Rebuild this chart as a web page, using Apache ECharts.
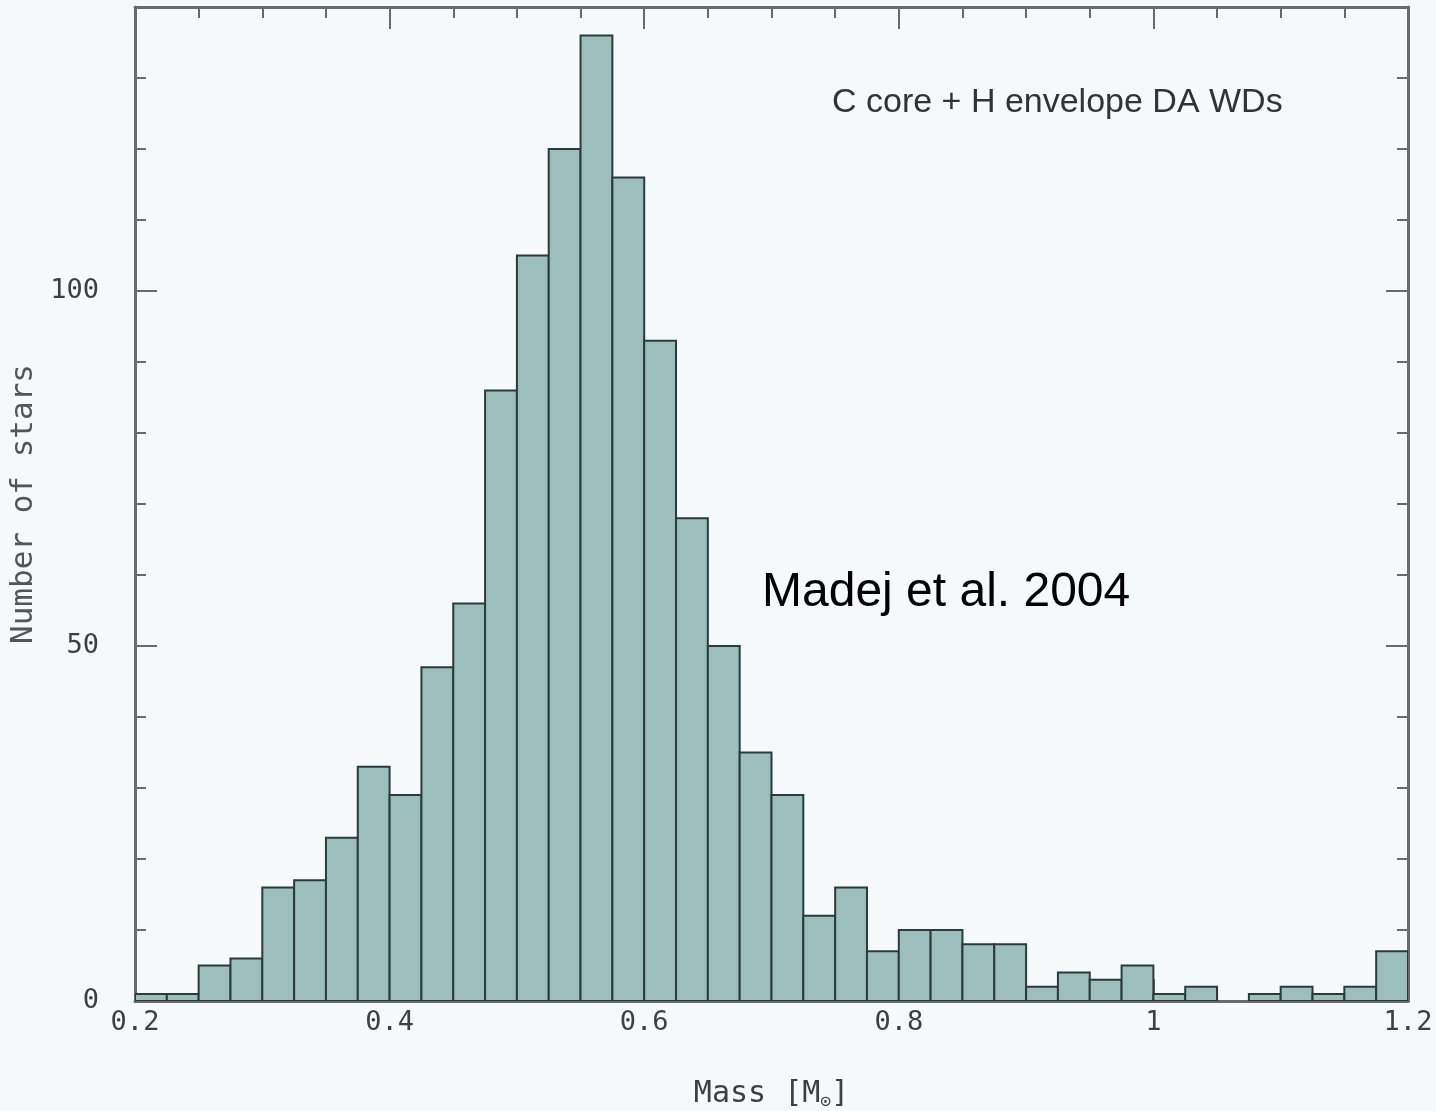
<!DOCTYPE html>
<html>
<head>
<meta charset="utf-8">
<script src="https://cdn.jsdelivr.net/npm/echarts@6/dist/echarts.min.js"></script>
<style>
html,body{margin:0;padding:0;background:#f5f9fa;}
#chart{width:1436px;height:1111px;}
</style>
</head>
<body>
<div id="chart"></div>
<script>
// Bin edges (solar masses)
var binLeft = [0.200,0.225,0.250,0.275,0.300,0.325,0.350,0.375,0.400,0.425,
               0.450,0.475,0.500,0.525,0.550,0.575,0.600,0.625,0.650,0.675,
               0.700,0.725,0.750,0.775,0.800,0.825,0.850,0.875,0.900,0.925,
               0.950,0.975,1.000,1.025,1.050,1.075,1.100,1.125,1.150,1.175];
var binRight = [0.225,0.250,0.275,0.300,0.325,0.350,0.375,0.400,0.425,0.450,
                0.475,0.500,0.525,0.550,0.575,0.600,0.625,0.650,0.675,0.700,
                0.725,0.750,0.775,0.800,0.825,0.850,0.875,0.900,0.925,0.950,
                0.975,1.000,1.025,1.050,1.075,1.100,1.125,1.150,1.175,1.200];
// Number of stars per bin
var counts = [1,1,5,6,16,17,23,33,29,47,
              56,86,105,120,136,116,93,68,50,35,
              29,12,16,7,10,10,8,8,2,4,
              3,5,1,2,0,1,2,1,2,7];

var xLabels = ['0.2','0.4','0.6','0.8','1','1.2'];
var yLabels = ['0','50','100'];
var annotation = 'C core + H envelope DA WDs';
var credit = 'Madej et al. 2004';

var histData = [];
for (var i = 0; i < counts.length; i++) {
  if (counts[i] > 0) histData.push([binLeft[i], binRight[i], counts[i]]);
}

var axisCol = '#6a6a6a';
var textCol = '#3f3f3f';
var mono = '"DejaVu Sans Mono", monospace';

function fmtX(v) {
  var s = (Math.round(v * 10) / 10).toString();
  return xLabels.indexOf(s) >= 0 ? s : '';
}
function fmtY(v) {
  var s = String(Math.round(v));
  return yLabels.indexOf(s) >= 0 ? s : '';
}

var chart = echarts.init(document.getElementById('chart'), null, {renderer: 'canvas'});
var option = {
  backgroundColor: '#f5f9fa',
  animation: false,
  grid: {left: 135, right: 28, top: 7, bottom: 110, show: false, containLabel: false, outerBoundsMode: 'none'},
  xAxis: [
    {
      type: 'value', position: 'bottom', min: 0.2, max: 1.2, interval: 0.2,
      name: 'Mass [M{sub|⊙}]',
      nameLocation: 'middle', nameGap: 76,
      nameTextStyle: {
        fontFamily: mono, fontSize: 30, color: textCol,
        rich: {sub: {fontFamily: mono, fontSize: 18, color: textCol, verticalAlign: 'bottom', padding: [16, 0, 0, 0]}}
      },
      axisLine: {show: true, onZero: false, lineStyle: {color: axisCol, width: 3}},
      axisTick: {show: true, inside: true, length: 22, lineStyle: {color: axisCol, width: 2}},
      minorTick: {show: true, splitNumber: 4, length: 11, lineStyle: {color: axisCol, width: 2}},
      splitLine: {show: false},
      axisLabel: {show: true, margin: 8, fontFamily: mono, fontSize: 27, color: textCol, formatter: fmtX, showMinLabel: true, showMaxLabel: true}
    },
    {
      type: 'value', position: 'top', min: 0.2, max: 1.2, interval: 0.2,
      axisLine: {show: true, onZero: false, lineStyle: {color: axisCol, width: 3}},
      axisTick: {show: true, inside: true, length: 22, lineStyle: {color: axisCol, width: 2}},
      minorTick: {show: true, splitNumber: 4, length: 11, lineStyle: {color: axisCol, width: 2}},
      splitLine: {show: false},
      axisLabel: {show: false}
    }
  ],
  yAxis: [
    {
      type: 'value', position: 'left', min: 0, max: 140, interval: 10,
      name: 'Number of stars',
      nameLocation: 'middle', nameGap: 95, nameRotate: 90,
      nameTextStyle: {fontFamily: mono, fontSize: 31, color: '#555'},
      axisLine: {show: true, onZero: false, lineStyle: {color: axisCol, width: 3}},
      axisTick: {show: true, inside: true, length: 11, lineStyle: {color: axisCol, width: 2}},
      splitLine: {show: false},
      axisLabel: {show: true, margin: 36, fontFamily: mono, fontSize: 27, color: textCol, formatter: fmtY}
    },
    {
      type: 'value', position: 'left', min: 0, max: 140, interval: 50,
      axisLine: {show: false},
      axisTick: {show: true, inside: true, length: 22, lineStyle: {color: axisCol, width: 2}},
      splitLine: {show: false},
      axisLabel: {show: false}
    },
    {
      type: 'value', position: 'right', min: 0, max: 140, interval: 10,
      axisLine: {show: true, onZero: false, lineStyle: {color: axisCol, width: 3}},
      axisTick: {show: true, inside: true, length: 11, lineStyle: {color: axisCol, width: 2}},
      splitLine: {show: false},
      axisLabel: {show: false}
    },
    {
      type: 'value', position: 'right', min: 0, max: 140, interval: 50,
      axisLine: {show: false},
      axisTick: {show: true, inside: true, length: 22, lineStyle: {color: axisCol, width: 2}},
      splitLine: {show: false},
      axisLabel: {show: false}
    }
  ],
  series: [
    {
      type: 'custom',
      xAxisIndex: 0, yAxisIndex: 0,
      clip: true,
      encode: {x: [0, 1], y: 2},
      data: histData,
      z: 5,
      renderItem: function (params, api) {
        var p0 = api.coord([api.value(0), api.value(2)]);
        var p1 = api.coord([api.value(1), 0]);
        return {
          type: 'rect',
          shape: {x: p0[0], y: p0[1], width: p1[0] - p0[0], height: p1[1] - p0[1]},
          style: {fill: '#9cbfbd', stroke: '#2b3b3b', lineWidth: 2}
        };
      }
    }
  ],
  graphic: [
    {
      type: 'text', left: 832, top: 86, z: 10,
      style: {text: annotation, fontFamily: '"Liberation Sans", Arial, sans-serif', fontSize: 34, fill: '#333'}
    },
    {
      type: 'text', left: 762, top: 569, z: 10,
      style: {text: credit, fontFamily: '"Liberation Sans", Arial, sans-serif', fontSize: 48, fill: '#000'}
    }
  ]
};
chart.setOption(option);
</script>
</body>
</html>
